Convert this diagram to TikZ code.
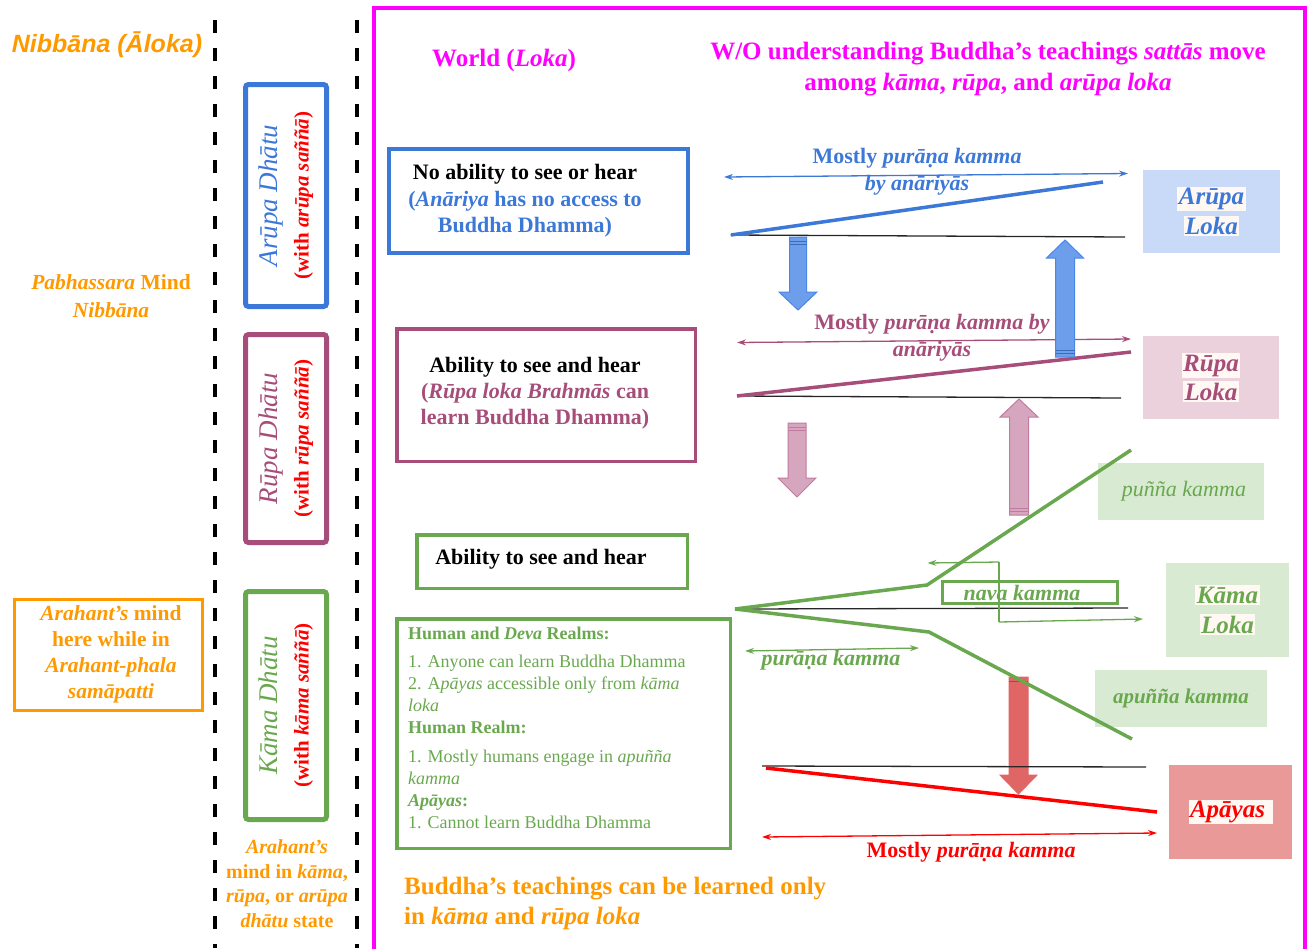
\documentclass[tikz,border=0pt]{standalone}
\usepackage{fontspec}
\setmainfont{Liberation Serif}
\newfontfamily\arialf{Liberation Sans}
\usetikzlibrary{arrows.meta}
\definecolor{cblue}{HTML}{3C78D8}
\definecolor{cbluearr}{HTML}{6D9EEB}
\definecolor{cblueedge}{HTML}{4A86E8}
\definecolor{cbluefill}{HTML}{C9DAF8}
\definecolor{cpurple}{HTML}{A64D79}
\definecolor{cpink}{HTML}{D5A6BD}
\definecolor{cpinkedge}{HTML}{C27BA0}
\definecolor{cpinkfill}{HTML}{EAD1DC}
\definecolor{cgreen}{HTML}{6AA84F}
\definecolor{cgreenfill}{HTML}{D9EAD3}
\definecolor{cred}{HTML}{FF0000}
\definecolor{credarr}{HTML}{E06666}
\definecolor{credfill}{HTML}{EA9999}
\definecolor{corange}{HTML}{FF9900}
\definecolor{cmag}{HTML}{FF00FF}
\definecolor{chl}{HTML}{FFF8F3}
\newcommand{\fs}[2]{\fontsize{#1}{#2}\selectfont}
\setlength{\fboxsep}{1.5pt}
\tikzset{
  txt/.style={inner sep=0pt, align=center},
  dashline/.style={line width=4pt, dash pattern=on 13pt off 15pt},
  dbox/.style={draw, line width=5pt, rounded corners=3pt, rotate=90, align=center, inner sep=0pt, font=\fs{21}{31}},
  lokabox/.style={inner sep=0pt, align=center},
  thinarrow/.style={{Stealth[length=9pt,width=6pt]}-{Stealth[length=9pt,width=6pt]}, line width=1.3pt},
  onearrow/.style={-{Stealth[length=9pt,width=6pt]}, line width=1.3pt},
  kline/.style={line width=3.5pt},
  blackline/.style={line width=1.3pt, draw=black!85},
  blockarr/.style={line width=1pt},
}
\begin{document}
\begin{tikzpicture}[x=1pt,y=-1pt]
\useasboundingbox (0,0) rectangle (1311,948);

% ---------- left part ----------
\draw[dashline] (215,20) -- (215,948);
\draw[dashline] (357,20) -- (357,948);

\node[txt, font=\arialf\bfseries\itshape\fs{25}{30}, text=corange] (nibbana) at (107,45) {Nibbāna (Āloka)};
\node[txt, font=\bfseries\fs{21.5}{28}, text=corange] (pabh) at (111,296) {\textit{Pabhassara} Mind\\\textit{Nibbāna}};

\node[dbox, draw=cblue, minimum width=222, minimum height=81] (arupadhatu) at (286,195.5)
  {{\fs{27}{31}\itshape\color{cblue}Arūpa Dhātu}\\{\bfseries\color{cred}(with \textit{arūpa saññā})}};
\node[dbox, draw=cpurple, minimum width=208, minimum height=81] (rupadhatu) at (286,438.5)
  {{\fs{27}{31}\itshape\color{cpurple}Rūpa Dhātu}\\{\bfseries\color{cred}(with \textit{rūpa saññā})}};
\node[dbox, draw=cgreen, minimum width=228, minimum height=81] (kamadhatu) at (286,705.5)
  {{\fs{27}{31}\itshape\color{cgreen}Kāma Dhātu}\\{\bfseries\color{cred}(with \textit{kāma saññā})}};

\node[draw=corange, line width=3pt, minimum width=188, minimum height=111, inner sep=0pt] (arahbox) at (108.5,655) {};
\node[txt, font=\bfseries\fs{21.5}{26}, text=corange] (arahtext) at (111,654)
  {\textit{Arahant’s} mind\\here while in\\\textit{Arahant-phala}\\\textit{samāpatti}};
\node[txt, font=\bfseries\fs{20}{24.5}, text=corange] (arahmind) at (287,883.5)
  {\textit{Arahant’s}\\mind in \textit{kāma},\\\textit{rūpa}, or \textit{arūpa}\\\textit{dhātu} state};

% ---------- world frame ----------
\draw[cmag, line width=4pt] (374,8) rectangle (1305,955);
\node[txt, font=\bfseries\fs{25}{31}, text=cmag] (world) at (504,60) {World (\textit{Loka})};
\node[txt, font=\bfseries\fs{25}{31}, text=cmag] (header) at (988,69)
  {W/O understanding Buddha’s teachings \textit{sattās} move\\among \textit{kāma}, \textit{rūpa}, and \textit{arūpa loka}};

% ---------- arupa ----------
\node[draw=cblue, line width=4pt, minimum width=299, minimum height=104, inner sep=0pt] (nobox) at (538.5,201) {};
\node[txt, font=\bfseries\fs{22}{26.5}, text=cblue] (notext) at (525,201)
  {{\color{black}No ability to see or hear}\\(\textit{Anāriya} has no access to\\Buddha Dhamma)};

\coordinate (ba1) at (724,177); \coordinate (ba2) at (1128,173.5);
\draw[thinarrow, cblue] (ba1) -- (ba2);
\node[txt, font=\bfseries\fs{22}{27}, text=cblue] (blabel) at (917,171.5)
  {Mostly \textit{purāṇa kamma}\\\textit{by anāriyās}};
\coordinate (bk1) at (730.5,235); \coordinate (bk2) at (1125,237);
\draw[blackline] (bk1) -- (bk2);
\coordinate (bl1) at (731,235); \coordinate (bl2) at (1103,182);
\draw[kline, cblue] (bl1) -- (bl2);

\node[lokabox, fill=cbluefill, minimum width=137, minimum height=83, font=\bfseries\itshape\fs{25}{30}, text=cblue] (arupaloka) at (1211.5,211.5)
  {\colorbox{chl}{Arūpa}\\\colorbox{chl}{Loka}};

% ---------- rupa ----------
\node[draw=cpurple, line width=3.5pt, minimum width=298.5, minimum height=132.5, inner sep=0pt] (rupabox) at (546,395) {};
\node[txt, font=\bfseries\fs{22}{26}, text=cpurple] (rupatext) at (535,393)
  {{\color{black}Ability to see and hear}\\(\textit{Rūpa loka Brahmās} can\\learn Buddha Dhamma)};

\coordinate (pa1) at (737,342.5); \coordinate (pa2) at (1131,339);
\draw[thinarrow, cpurple] (pa1) -- (pa2);
\node[txt, font=\bfseries\fs{22}{27}, text=cpurple] (plabel) at (932,338)
  {Mostly \textit{purāṇa kamma by}\\\textit{anāriyās}};
\coordinate (pk1) at (737,396); \coordinate (pk2) at (1121,398);
\draw[blackline] (pk1) -- (pk2);
\coordinate (pl1) at (737,396); \coordinate (pl2) at (1131,352);
\draw[kline, cpurple] (pl1) -- (pl2);

\node[lokabox, fill=cpinkfill, minimum width=136, minimum height=83, font=\bfseries\itshape\fs{25}{29}, text=cpurple] (rupaloka) at (1211,377.5)
  {\colorbox{chl}{Rūpa}\\\colorbox{chl}{Loka}};

% blue block arrows
\draw[blockarr, draw=cblueedge, fill=cbluearr] (789.5,237) -- (806.5,237) -- (806.5,292) -- (817,292) -- (798,310) -- (779,292) -- (789.5,292) -- cycle;
\draw[cblueedge!80!black, line width=1pt] (789.5,241) -- (806.5,241) (789.5,244) -- (806.5,244);
\draw[blockarr, draw=cblueedge, fill=cbluearr] (1055.5,357) -- (1074.5,357) -- (1074.5,258) -- (1083.5,258) -- (1065,240) -- (1046.5,258) -- (1055.5,258) -- cycle;
\draw[cblueedge!80!black, line width=1pt] (1055.5,350) -- (1074.5,350) (1055.5,353) -- (1074.5,353);

% pink block arrows
\draw[blockarr, draw=cpinkedge, fill=cpink] (788,423) -- (806,423) -- (806,478) -- (816,478) -- (797,497) -- (778,478) -- (788,478) -- cycle;
\draw[cpinkedge, line width=1pt] (788,427) -- (806,427) (788,430) -- (806,430);
\draw[blockarr, draw=cpinkedge, fill=cpink] (1009.5,515) -- (1028.5,515) -- (1028.5,417) -- (1038,417) -- (1019,399) -- (1000,417) -- (1009.5,417) -- cycle;
\draw[cpinkedge, line width=1pt] (1009.5,508) -- (1028.5,508) (1009.5,511) -- (1028.5,511);

% red block arrow (below the green lines)
\draw[blockarr, draw=credarr, fill=credarr] (1009,677) -- (1028,677) -- (1028,775) -- (1037,775) -- (1018.5,794) -- (1000,775) -- (1009,775) -- cycle;
\draw[cred!80!black, line width=0.8pt, opacity=0.5] (1009,681) -- (1028,681);

% ---------- kama ----------
\node[draw=cgreen, line width=3.5pt, minimum width=270.5, minimum height=53.5, inner sep=0pt] (kamasmall) at (552,561.5) {};
\node[txt, font=\bfseries\fs{22}{26}] (kamasmalltext) at (541,559) {Ability to see and hear};

\node[draw=cgreen, line width=3.5pt, minimum width=333.5, minimum height=229.5, inner sep=0pt] (kamabig) at (563.5,733.5) {};
\node[inner sep=0pt, align=left, anchor=north west, font=\fs{18}{22}, text=cgreen] (kamalist) at (408,627)
  {\textbf{Human and \textit{Deva} Realms:}\\[6pt]
   1. Anyone can learn Buddha Dhamma\\
   2. A\textit{pāyas} accessible only from \textit{kāma}\\
   \textit{loka}\\
   \textbf{Human Realm:}\\[7pt]
   1. Mostly humans engage in \textit{apuñña}\\
   \textit{kamma}\\
   \textbf{\textit{Apāyas}:}\\
   1. Cannot learn Buddha Dhamma};

\node[lokabox, fill=cgreenfill, minimum width=166, minimum height=57, font=\itshape\fs{22}{26}, text=cgreen] (punna) at (1181,491.5) {\hspace*{6pt}puñña kamma};
\node[lokabox, fill=cgreenfill, minimum width=123, minimum height=94, font=\bfseries\itshape\fs{25}{30}, text=cgreen] (kamaloka) at (1227.5,610)
  {\colorbox{chl}{Kāma}\\\colorbox{chl}{Loka}};
\node[lokabox, fill=cgreenfill, minimum width=172, minimum height=57, font=\bfseries\itshape\fs{21}{26}, text=cgreen] (apunna) at (1181,698.5) {apuñña kamma};

\coordinate (korig) at (735,609);
\coordinate (kbk) at (1128,608);
\draw[blackline] (korig) -- (kbk);
\coordinate (kub) at (927,585); \coordinate (kue) at (1131,450);
\coordinate (klb) at (929,632); \coordinate (kle) at (1132,739);
\draw[kline, cgreen] (korig) -- (kub) -- (kue);
\draw[kline, cgreen] (korig) -- (klb) -- (kle);

\node[draw=cgreen, line width=3pt, minimum width=175, minimum height=22, inner sep=0pt] (navabox) at (1030,592.5) {};
\node[txt, font=\bfseries\itshape\fs{22}{26}, text=cgreen] (navatext) at (1022,593) {nava kamma};

\coordinate (nv1) at (999,562); \coordinate (nv2) at (999,622);
\coordinate (nvl) at (927.5,563); \coordinate (nvr) at (1143,619);
\draw[cgreen, line width=1.2pt] (nv1) -- (nv2);
\draw[onearrow, cgreen] (nv1) -- (nvl);
\draw[onearrow, cgreen] (nv2) -- (nvr);

\coordinate (ga1) at (745,651); \coordinate (ga2) at (919,648);
\draw[thinarrow, cgreen] (ga1) -- (ga2);
\node[txt, font=\bfseries\itshape\fs{22}{26}, text=cgreen] (glabel) at (831,660.5) {purāṇa kamma};

% ---------- apayas ----------
\coordinate (ak1) at (762,766); \coordinate (ak2) at (1146,767);
\draw[blackline] (ak1) -- (ak2);
\coordinate (al1) at (766,768); \coordinate (al2) at (1157,812);
\draw[kline, cred] (al1) -- (al2);
\coordinate (ra1) at (762,837); \coordinate (ra2) at (1157,833);
\draw[thinarrow, cred] (ra1) -- (ra2);
\node[txt, font=\bfseries\fs{22}{26}, text=cred] (rlabel) at (971,852) {Mostly \textit{purāṇa kamma}};

\node[lokabox, fill=credfill, minimum width=123, minimum height=94, font=\bfseries\itshape\fs{25}{30}, text=cred] (apayas) at (1230.5,812)
  {\colorbox{chl}{Apāyas\hspace*{6pt}}};

% ---------- bottom ----------
\node[inner sep=0pt, align=left, anchor=west, font=\bfseries\fs{25}{30}, text=corange] (bottomtext) at (404,903)
  {Buddha’s teachings can be learned only\\in \textit{kāma} and \textit{rūpa loka}};
\end{tikzpicture}
\end{document}
